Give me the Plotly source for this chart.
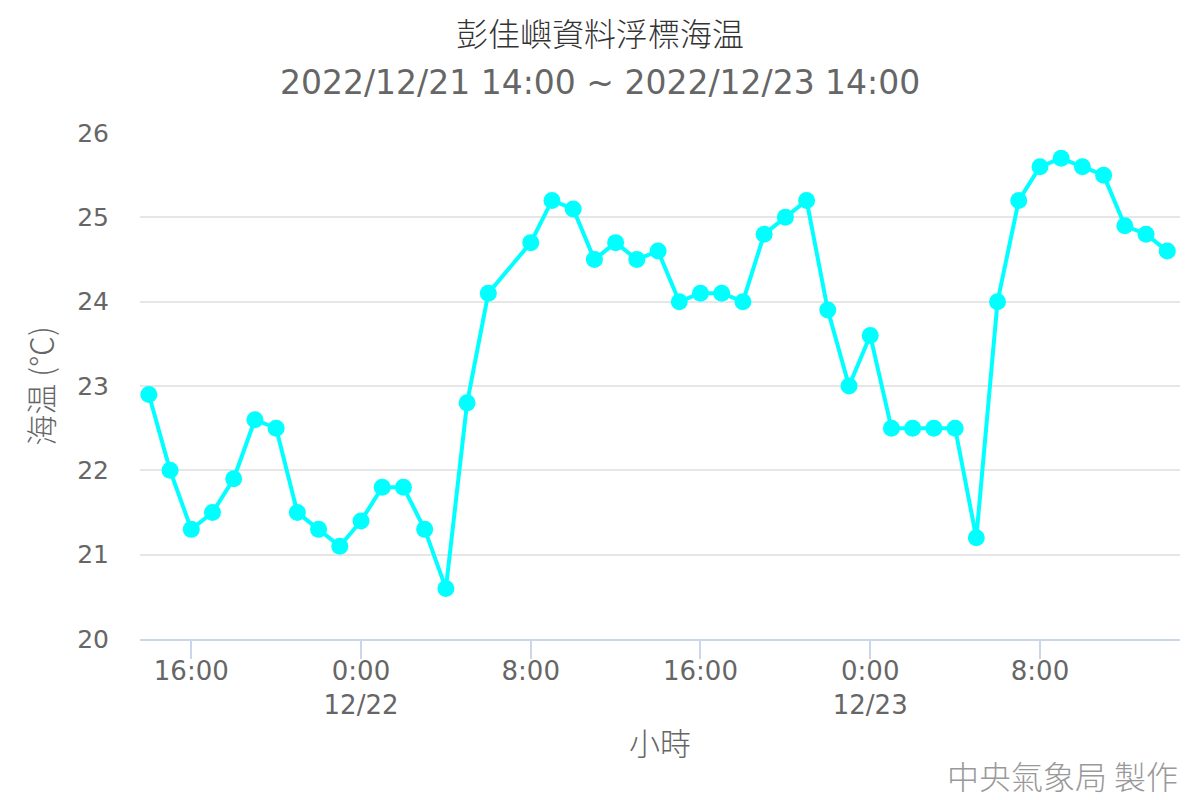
import plotly.graph_objects as go
import pandas as pd

# hourly buoy sea temperature, 12/22 07:00 missing
times = [
    "2022-12-21 14:00", "2022-12-21 15:00", "2022-12-21 16:00", "2022-12-21 17:00",
    "2022-12-21 18:00", "2022-12-21 19:00", "2022-12-21 20:00", "2022-12-21 21:00",
    "2022-12-21 22:00", "2022-12-21 23:00", "2022-12-22 00:00", "2022-12-22 01:00",
    "2022-12-22 02:00", "2022-12-22 03:00", "2022-12-22 04:00", "2022-12-22 05:00",
    "2022-12-22 06:00", "2022-12-22 08:00", "2022-12-22 09:00", "2022-12-22 10:00",
    "2022-12-22 11:00", "2022-12-22 12:00", "2022-12-22 13:00", "2022-12-22 14:00",
    "2022-12-22 15:00", "2022-12-22 16:00", "2022-12-22 17:00", "2022-12-22 18:00",
    "2022-12-22 19:00", "2022-12-22 20:00", "2022-12-22 21:00", "2022-12-22 22:00",
    "2022-12-22 23:00", "2022-12-23 00:00", "2022-12-23 01:00", "2022-12-23 02:00",
    "2022-12-23 03:00", "2022-12-23 04:00", "2022-12-23 05:00", "2022-12-23 06:00",
    "2022-12-23 07:00", "2022-12-23 08:00", "2022-12-23 09:00", "2022-12-23 10:00",
    "2022-12-23 11:00", "2022-12-23 12:00", "2022-12-23 13:00", "2022-12-23 14:00",
]
sea_temp = [
    22.9, 22.0, 21.3, 21.5, 21.9, 22.6, 22.5, 21.5, 21.3, 21.1,
    21.4, 21.8, 21.8, 21.3, 20.6, 22.8, 24.1, 24.7, 25.2, 25.1,
    24.5, 24.7, 24.5, 24.6, 24.0, 24.1, 24.1, 24.0, 24.8, 25.0,
    25.2, 23.9, 23.0, 23.6, 22.5, 22.5, 22.5, 22.5, 21.2, 24.0,
    25.2, 25.6, 25.7, 25.6, 25.5, 24.9, 24.8, 24.6,
]
tick_times = ["2022-12-21 16:00", "2022-12-22 00:00", "2022-12-22 08:00",
              "2022-12-22 16:00", "2022-12-23 00:00", "2022-12-23 08:00"]
tick_text = ["16:00", "0:00<br>12/22", "8:00", "16:00", "0:00<br>12/23", "8:00"]
y_ticks = [20, 21, 22, 23, 24, 25, 26]

x = pd.to_datetime(times)

fig = go.Figure()
fig.add_trace(go.Scatter(
    x=x, y=sea_temp, mode="lines+markers",
    line=dict(color="#00ffff", width=4),
    marker=dict(color="#00ffff", size=17),
    showlegend=False,
))

font = "DejaVu Sans, Noto Sans CJK TC, sans-serif"
cjk = "Noto Sans CJK TC, sans-serif"

# plot area in page pixels (page has an 8px body margin)
L, R, T, B = 140, 1180, 133, 639

fig.update_layout(
    width=1200, height=800,
    margin=dict(l=L - 8, r=1200 - (R - 8), t=T - 8, b=800 - (B - 8)),
    paper_bgcolor="white", plot_bgcolor="white",
    font=dict(family=font, color="#666666", size=26),
    xaxis=dict(
        type="date",
        range=[pd.Timestamp("2022-12-21 13:35"), pd.Timestamp("2022-12-23 14:36")],
        tickvals=pd.to_datetime(tick_times), ticktext=tick_text,
        showgrid=False, showline=True, linecolor="#ccd6eb", linewidth=2,
        ticks="outside", ticklen=18, tickcolor="#ccd6eb", tickwidth=2,
        ticklabelstandoff=-10,
        tickfont=dict(size=26, color="#666666", lineposition="none"),
        title=dict(text="小時", font=dict(family=cjk, size=31, color="#666666", weight=300), standoff=14),
        zeroline=False,
    ),
    yaxis=dict(
        range=[20, 26], tickvals=y_ticks,
        showgrid=True, gridcolor="#e6e6e6", gridwidth=2,
        showline=False, zeroline=False, ticks="", ticklabelstandoff=30,
        tickfont=dict(size=25, color="#666666"),
        title=dict(text="海温 (℃)", font=dict(family=cjk, size=31, color="#666666", weight=300), standoff=14),
    ),
)

def note(text, px, py, size, color, family, anchor="center", weight=400):
    fig.add_annotation(
        text=text, xref="paper", yref="paper",
        x=(px - L) / (R - L), y=(B - py) / (B - T),
        xanchor=anchor, yanchor="middle", showarrow=False,
        font=dict(family=family, size=size, color=color, weight=weight),
    )

note("彭佳嶼資料浮標海温", 600, 32, 32, "#333333", cjk, weight=300)
note("2022/12/21 14:00 ~ 2022/12/23 14:00", 600, 83, 33, "#666666", font)
note("中央氣象局 製作", 1180, 775, 32, "#999999", cjk, anchor="right", weight=300)

fig.write_html("out.html")
